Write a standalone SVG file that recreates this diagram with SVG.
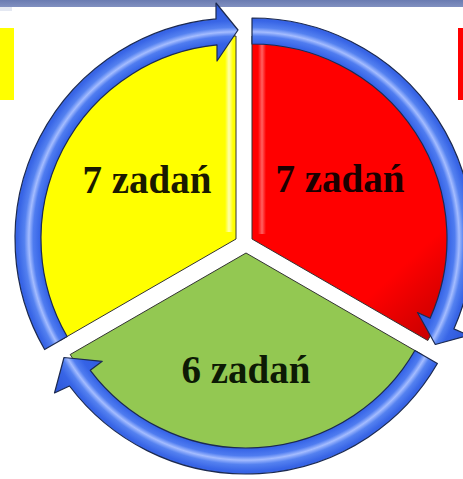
<svg xmlns="http://www.w3.org/2000/svg" xmlns:xlink="http://www.w3.org/1999/xlink" width="463" height="479" viewBox="0 0 463 479">
<style>
.sector{stroke:#333;stroke-width:1}
.arrow{stroke:#1c2a50;stroke-width:1.2;stroke-linejoin:round}
.label{font-family:"Liberation Serif","Times New Roman",serif;font-weight:bold;font-size:39px;text-anchor:middle}
</style>
<defs>
<radialGradient id="ag" gradientUnits="userSpaceOnUse" cx="0" cy="0" r="240">
<stop offset="0.75" stop-color="#2f5ae0"/>
<stop offset="0.815" stop-color="#3563e6"/>
<stop offset="0.845" stop-color="#4f7cf0"/>
<stop offset="0.863" stop-color="#a4bcff"/>
<stop offset="0.882" stop-color="#5481f0"/>
<stop offset="0.91" stop-color="#3865e6"/>
<stop offset="1" stop-color="#2a52d4"/>
</radialGradient>
<radialGradient id="agY" xlink:href="#ag" cx="236" cy="239"/>
<radialGradient id="agR" xlink:href="#ag" cx="252" cy="239"/>
<radialGradient id="agG" xlink:href="#ag" cx="246" cy="253"/>
<linearGradient id="redg" gradientUnits="userSpaceOnUse" x1="320" y1="220" x2="430" y2="340">
<stop offset="0.55" stop-color="#ff0000"/>
<stop offset="1" stop-color="#c80000"/>
</linearGradient>
<linearGradient id="redHi" x1="0" y1="0" x2="1" y2="0">
<stop offset="0" stop-color="#ff7a7a" stop-opacity="0"/>
<stop offset="0.5" stop-color="#ff7a7a" stop-opacity="0.8"/>
<stop offset="1" stop-color="#ff7a7a" stop-opacity="0"/>
</linearGradient>
<linearGradient id="yelHi" x1="0" y1="0" x2="1" y2="0">
<stop offset="0" stop-color="#ffffc0" stop-opacity="0"/>
<stop offset="0.5" stop-color="#ffffc0" stop-opacity="0.9"/>
<stop offset="1" stop-color="#ffffc0" stop-opacity="0"/>
</linearGradient>
<linearGradient id="bar" x1="0" y1="0" x2="0" y2="1">
<stop offset="0" stop-color="#6a7bb1"/>
<stop offset="1" stop-color="#8190c0"/>
</linearGradient>
</defs>
<rect width="463" height="479" fill="#ffffff"/>
<rect x="0" y="0" width="463" height="7" fill="url(#bar)"/>
<rect x="0" y="7" width="12" height="4" fill="#e4e8f2"/>
<rect x="0" y="28" width="14" height="72" fill="#ffff00"/>
<rect x="458" y="28" width="5" height="72" fill="#ff0000"/>

<g id="node-yellow">
<path class="sector" d="M236,239 L60.2,340.5 A203,203 0 0 1 236,36 Z" fill="#ffff00"/>
<rect x="225" y="40" width="8" height="192" fill="url(#yelHi)"/>
<text class="label" x="147" y="193" fill="#1a1a00">7 zadań</text>
</g>
<g id="node-red">
<path class="sector" d="M252,239 L252,36 A203,203 0 0 1 427.8,340.5 Z" fill="url(#redg)"/>
<rect x="258" y="44" width="8" height="190" fill="url(#redHi)"/>
<text class="label" x="340" y="192" fill="#1a0000">7 zadań</text>
</g>
<g id="node-green">
<path class="sector" d="M246,253 L421.8,354.5 A203,203 0 0 1 70.2,354.5 Z" fill="#93c852"/>
<text class="label" x="246" y="383" fill="#0d1a05">6 zadań</text>
</g>

<g id="connectors">
<path class="arrow" fill="url(#agY)" d="M44.61,349.5 A221,221 0 0 1 216,18.9 L216,3 L238,30 L217,61 L217,44.9 A195,195 0 0 0 67.12,336.5 Z"/>
<path class="arrow" fill="url(#agR)" d="M252,18 A221,221 0 0 1 453.89,328.89 L468.51,335.4 L435.3,344.5 L417.5,312.5 L430.14,318.31 A195,195 0 0 0 252,44 Z"/>
<path class="arrow" fill="url(#agG)" d="M437.39,363.5 A221,221 0 0 1 69.5,386 L54.5,393 L64,357.5 L102.24,361.33 L90.27,370.35 A195,195 0 0 0 414.87,350.5 Z"/>
</g>
</svg>
